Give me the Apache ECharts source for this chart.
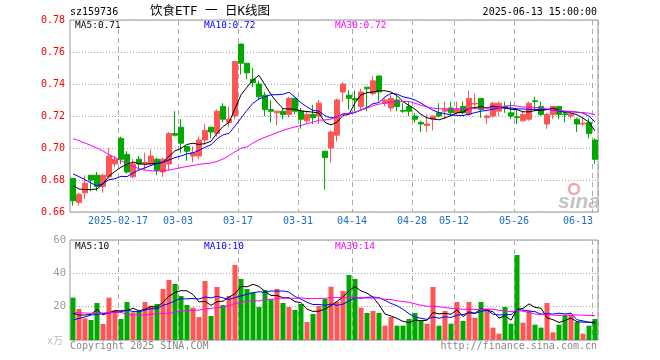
<!DOCTYPE html>
<html><head><meta charset="utf-8">
<script src="https://cdn.jsdelivr.net/npm/echarts@6/dist/echarts.min.js"></script>
<style>html,body{margin:0;padding:0;background:#fff}#c{width:660px;height:360px}</style>
</head><body><div id="c"></div>
<script>
var dates = ['2025-02-05','2025-02-06','2025-02-07','2025-02-10','2025-02-11','2025-02-12','2025-02-13','2025-02-14',
'2025-02-17','2025-02-18','2025-02-19','2025-02-20','2025-02-21','2025-02-24','2025-02-25','2025-02-26','2025-02-27','2025-02-28',
'2025-03-03','2025-03-04','2025-03-05','2025-03-06','2025-03-07','2025-03-10','2025-03-11','2025-03-12','2025-03-13','2025-03-14',
'2025-03-17','2025-03-18','2025-03-19','2025-03-20','2025-03-21','2025-03-24','2025-03-25','2025-03-26','2025-03-27','2025-03-28',
'2025-03-31','2025-04-01','2025-04-02','2025-04-03','2025-04-07','2025-04-08','2025-04-09','2025-04-10','2025-04-11',
'2025-04-14','2025-04-15','2025-04-16','2025-04-17','2025-04-18','2025-04-21','2025-04-22','2025-04-23','2025-04-24','2025-04-25',
'2025-04-28','2025-04-29','2025-04-30','2025-05-06','2025-05-07','2025-05-08','2025-05-09',
'2025-05-12','2025-05-13','2025-05-14','2025-05-15','2025-05-16','2025-05-19','2025-05-20','2025-05-21','2025-05-22','2025-05-23',
'2025-05-26','2025-05-27','2025-05-28','2025-05-29','2025-05-30','2025-06-03','2025-06-04','2025-06-05','2025-06-06',
'2025-06-09','2025-06-10','2025-06-11','2025-06-12','2025-06-13'];
var labelDates = ['2025-02-17','2025-03-03','2025-03-17','2025-03-31','2025-04-14','2025-04-28','2025-05-12','2025-05-26','2025-06-13'];

var open  = [0.681,0.666,0.672,0.683,0.683,0.676,0.682,0.690,0.706,0.696,0.682,0.693,0.690,0.690,0.693,0.685,0.690,0.709,0.713,0.701,
0.695,0.695,0.705,0.713,0.709,0.726,0.716,0.720,0.765,0.753,0.743,0.740,0.733,0.724,0.722,0.723,0.721,0.731,0.723,0.717,
0.721,0.720,0.698,0.700,0.708,0.735,0.733,0.731,0.726,0.738,0.734,0.745,0.728,0.725,0.730,0.7235,0.726,0.720,0.716,0.714,
0.718,0.722,0.723,0.725,0.722,0.726,0.721,0.7275,0.731,0.719,0.720,0.723,0.726,0.722,0.7195,0.717,0.718,0.7295,0.726,0.715,
0.721,0.726,0.7212,0.720,0.718,0.715,0.716,0.705];
var close = [0.667,0.671,0.678,0.680,0.676,0.683,0.695,0.693,0.693,0.685,0.690,0.690,0.691,0.695,0.686,0.693,0.709,0.708,0.703,0.698,
0.697,0.705,0.711,0.710,0.723,0.718,0.718,0.754,0.753,0.747,0.741,0.732,0.724,0.723,0.723,0.721,0.731,0.723,0.718,0.721,
0.719,0.728,0.694,0.710,0.730,0.740,0.731,0.730,0.735,0.737,0.742,0.735,0.730,0.731,0.726,0.723,0.723,0.718,0.715,0.715,
0.720,0.720,0.724,0.722,0.724,0.722,0.731,0.728,0.724,0.720,0.728,0.728,0.725,0.720,0.719,0.721,0.728,0.729,0.721,0.721,
0.726,0.721,0.7208,0.721,0.715,0.7155,0.709,0.693];
var high  = [0.681,0.672,0.683,0.683,0.685,0.684,0.700,0.695,0.707,0.698,0.693,0.695,0.697,0.699,0.694,0.694,0.710,0.723,0.718,0.701,
0.701,0.707,0.715,0.713,0.724,0.728,0.726,0.754,0.765,0.753,0.750,0.742,0.735,0.730,0.723,0.725,0.732,0.731,0.725,0.723,
0.727,0.730,0.698,0.711,0.731,0.741,0.736,0.736,0.737,0.738,0.745,0.745,0.731,0.733,0.733,0.728,0.729,0.722,0.717,0.721,
0.720,0.728,0.729,0.729,0.729,0.729,0.736,0.734,0.731,0.721,0.729,0.729,0.729,0.729,0.724,0.723,0.729,0.732,0.729,0.722,
0.726,0.726,0.722,0.722,0.719,0.719,0.719,0.706];
var low   = [0.664,0.664,0.668,0.673,0.673,0.672,0.681,0.688,0.690,0.684,0.681,0.686,0.686,0.689,0.683,0.682,0.686,0.707,0.697,0.692,
0.691,0.693,0.702,0.706,0.707,0.716,0.713,0.718,0.746,0.743,0.738,0.730,0.720,0.716,0.714,0.718,0.719,0.721,0.712,0.715,
0.715,0.715,0.674,0.691,0.704,0.729,0.724,0.723,0.724,0.723,0.733,0.729,0.726,0.723,0.723,0.722,0.720,0.716,0.710,0.710,
0.711,0.719,0.718,0.720,0.721,0.721,0.720,0.726,0.719,0.715,0.719,0.720,0.722,0.718,0.715,0.717,0.717,0.723,0.720,0.712,
0.718,0.718,0.716,0.7185,0.710,0.7135,0.706,0.690];
var volume = [25.4,18.6,13,12,22.2,9.6,25.4,18,12.6,22.8,
16.6,17.4,22.8,20.6,21.6,30.6,36,33.6,26.4,21,
19.4,13.8,35.4,14.4,31.8,21,26.4,45,36.6,30.6,
28.6,19.8,30,24.4,30.6,22.2,19.8,18,21.6,10.8,
15.6,20.4,24.6,32,23,29.4,39,36.6,19.4,16.2,
17.4,16.2,8.6,13.8,8.6,8.6,12.6,16.2,12,9.8,
31.8,8.6,17.4,9.8,22.8,11.4,22.8,13.4,22.8,18.6,
7.4,3.8,19.8,9.8,51,10.4,17.4,9.2,7.4,22.2,
4.6,9.2,15,15,10.8,3.8,8.6,12.6];

var priceMA5Head = [0.6763,0.6744,0.674,0.674];
var priceMA10Head = [0.6838,0.6821,0.6802,0.6781,0.6764,0.6777,0.6802,0.6808,0.6823];
var priceMA30Head = [0.7058,0.7046,0.7031,0.7016,0.7,0.6981,0.696,0.6941,0.6921,0.6902,0.6885,0.6871,0.6862,0.6858,0.6856,
0.6858,0.6862,0.6869,0.6877,0.6885,0.6891,0.6898,0.6902,0.6906,0.6916,0.6931,0.6952,0.6977,0.6998];
var volMA5Head = [16,15,15,15.4];
var volMA10Head = [12,13,13.8,15,15.4,15.8,16.2,16.6,17];
var volMA30Head = [16.6,16.4,16.2,16,16,16.2,16.4,16.6,16.6,15.4,15,15,15,15.4,15.8,16,16,16.6,17.4,17.6,17.8,18,18.6,19,19.4,
19.8,20.4,21.8,22.6];

var yTicksPrice = [0.66,0.68,0.70,0.72,0.74,0.76,0.78];
var yTicksVol = [0,20,40,60];

function ma(arr, n, head) {
  return arr.map(function (_, i) {
    if (i < n - 1) return head[i];
    var s = 0; for (var k = i - n + 1; k <= i; k++) s += arr[k];
    return +(s / n).toFixed(5);
  });
}
var RED = '#ff5555', GREEN = '#00a800';
var kData = dates.map(function (d, i) { return [open[i], close[i], low[i], high[i]]; });
var volData = volume.map(function (v, i) {
  return { value: v, itemStyle: { color: close[i] >= open[i] ? RED : GREEN } };
});
var labelIdx = labelDates.map(function (d) { return dates.indexOf(d); });
var MONO = '"DejaVu Sans Mono", monospace';

function xAxisCfg(gi, showLabel) {
  return {
    type: 'category', gridIndex: gi, data: dates, boundaryGap: true,
    axisLine: { show: false }, axisTick: { show: false },
    splitLine: { show: true, interval: function (i) { return labelIdx.indexOf(i) >= 0; },
      lineStyle: { color: '#aaa', type: [5, 4], width: 1 } },
    axisLabel: {
      show: showLabel, margin: 4,
      interval: function (i) { return labelIdx.indexOf(i) >= 0; },
      formatter: function (v, i) {
        if (i === labelIdx[0]) return '{a|' + v + '}';
        if (i === labelIdx[labelIdx.length - 1]) return '{b|' + v.slice(5) + '}';
        return '{a|' + v.slice(5) + '}';
      },
      rich: {
        a: { padding: [0, 6, 0, 0], color: '#1c6fc4', fontSize: 10, fontFamily: MONO },
        b: { padding: [0, 34, 0, 0], color: '#1c6fc4', fontSize: 10, fontFamily: MONO }
      }
    }
  };
}
function txt(t, x, y, color, font, align) {
  return { type: 'text', silent: true, style: { text: t, x: x, y: y, fill: color,
    font: font, textAlign: align || 'left', textVerticalAlign: 'middle' } };
}
var F10 = '10px ' + MONO, F95 = '9.5px ' + MONO;

var chart = echarts.init(document.getElementById('c'), null, { renderer: 'canvas' });
chart.setOption({
  animation: false,
  backgroundColor: '#fff',
  grid: [
    { left: 70, right: 62, top: 20, height: 192, show: true, borderColor: '#999', borderWidth: 1, backgroundColor: 'transparent' },
    { left: 70, right: 62, top: 240, height: 100, show: true, borderColor: '#999', borderWidth: 1, backgroundColor: 'transparent' }
  ],
  xAxis: [xAxisCfg(0, true), xAxisCfg(1, false)],
  yAxis: [
    { type: 'value', gridIndex: 0, min: yTicksPrice[0], max: yTicksPrice[yTicksPrice.length - 1], interval: 0.02,
      axisLine: { show: false }, axisTick: { show: false },
      splitLine: { lineStyle: { color: '#aaa', type: [1, 2] } },
      axisLabel: { color: '#f00', fontSize: 10, fontFamily: MONO, margin: 5,
        formatter: function (v) { return v.toFixed(2); } } },
    { type: 'value', gridIndex: 1, min: yTicksVol[0], max: yTicksVol[yTicksVol.length - 1], interval: 20,
      axisLine: { show: false }, axisTick: { show: false },
      splitLine: { lineStyle: { color: '#aaa', type: [1, 2] } },
      axisLabel: { color: '#999', fontSize: 10.5, fontFamily: MONO, margin: 4,
        formatter: function (v) { return v === 0 ? '' : String(v); } } }
  ],
  series: [
    { type: 'candlestick', xAxisIndex: 0, yAxisIndex: 0, data: kData, barWidth: 5,
      itemStyle: { color: RED, color0: GREEN, borderColor: RED, borderColor0: GREEN, borderWidth: 1 } },
    { type: 'line', xAxisIndex: 0, yAxisIndex: 0, data: ma(close, 5, priceMA5Head), showSymbol: false, symbol: 'none',
      lineStyle: { color: '#000', width: 1 } },
    { type: 'line', xAxisIndex: 0, yAxisIndex: 0, data: ma(close, 10, priceMA10Head), showSymbol: false, symbol: 'none',
      lineStyle: { color: '#0000ff', width: 1 } },
    { type: 'line', xAxisIndex: 0, yAxisIndex: 0, data: ma(close, 30, priceMA30Head), showSymbol: false, symbol: 'none',
      lineStyle: { color: '#ff00ff', width: 1 } },
    { type: 'bar', xAxisIndex: 1, yAxisIndex: 1, data: volData, barWidth: 5 },
    { type: 'line', xAxisIndex: 1, yAxisIndex: 1, data: ma(volume, 5, volMA5Head), showSymbol: false, symbol: 'none',
      lineStyle: { color: '#000', width: 1 } },
    { type: 'line', xAxisIndex: 1, yAxisIndex: 1, data: ma(volume, 10, volMA10Head), showSymbol: false, symbol: 'none',
      lineStyle: { color: '#0000ff', width: 1 } },
    { type: 'line', xAxisIndex: 1, yAxisIndex: 1, data: ma(volume, 30, volMA30Head), showSymbol: false, symbol: 'none',
      lineStyle: { color: '#ff00ff', width: 1 } }
  ],
  graphic: [
    txt('sz159736', 70, 12, '#000', F10),
    txt('饮食ETF 一 日K线图', 210, 12, '#000', '12.5px "DejaVu Sans Mono", "Noto Sans CJK SC"', 'center'),
    txt('2025-06-13 15:00:00', 597, 12, '#000', F10, 'right'),
    txt('MA5:0.71', 75, 26, '#000', F95),
    txt('MA10:0.72', 204, 26, '#0000ff', F95),
    txt('MA30:0.72', 335, 26, '#ff00ff', F95),
    txt('MA5:10', 75, 246.5, '#000', F95),
    txt('MA10:10', 204, 246.5, '#0000ff', F95),
    txt('MA30:14', 335, 246.5, '#ff00ff', F95),
    txt('x万', 63, 341, '#bbb', '10px "DejaVu Sans Mono", "Noto Sans CJK SC"', 'right'),
    txt('Copyright 2025 SINA.COM', 70, 346, '#888', F10),
    txt('http://finance.sina.com.cn', 597, 346, '#888', F10, 'right'),
    { type: 'circle', silent: true, shape: { cx: 574, cy: 189, r: 5 }, style: { fill: 'none', stroke: '#f2a8a8', lineWidth: 2.5 } },
    txt('sina', 579, 202, '#c4c4c4', 'italic bold 21px "Liberation Sans", sans-serif', 'center')
  ]
});
</script>
</body></html>
